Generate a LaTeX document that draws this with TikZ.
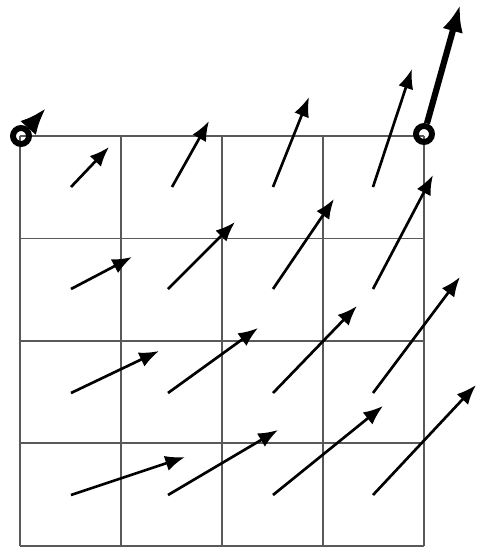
\documentclass[tikz,border=0pt]{standalone}
\usetikzlibrary{arrows.meta}

\begin{document}
\begin{tikzpicture}[
    x=0.025cm, y=-0.025cm,
    gridline/.style={draw=black!65, line width=1.1pt},
    flow/.style={draw=black, line width=1.9pt, -{Latex[length=14pt,width=11pt]}},
    bigflow/.style={draw=black, line width=4.4pt, -{Latex[length=19pt,width=15pt]}},
    corner/.style={circle, draw=black, line width=4.2pt, inner sep=0pt, minimum size=0.4cm},
  ]
  \useasboundingbox (0,0) rectangle (477,549);

  % 4x4 cell grid
  \foreach \gx in {20,121,222,323,424}
    \draw[gridline] (\gx,136) -- (\gx,546);
  \foreach \gy in {136,238.5,341,443,546}
    \draw[gridline] (20,\gy) -- (424,\gy);

  % vectors at cell centres: tail -> head
  \foreach \tx/\ty/\hx/\hy in {
      71/187/109/147, 172/187/209/121, 273/187/309/97, 373/187/412/69,
      71/289/132/257, 168/289/235/222, 273/289/334/199, 373/289/433/175,
      71/393/159/351, 168/393/258/328, 273/393/357/306, 373/393/460/277,
      71/495/185/457, 168/495/278/430, 273/495/383/406, 373/495/476/385}
    \draw[flow] (\tx,\ty) -- (\hx,\hy);

  % corner vectors
  \node[corner] (cornerL) at (21,136) {};
  \node[corner] (cornerR) at (424,134) {};
  \coordinate (tipL) at (46,108);
  \coordinate (tipR) at (460,5);
  \draw[bigflow] (cornerL) -- (tipL);
  \draw[bigflow] (cornerR) -- (tipR);
\end{tikzpicture}
\end{document}
